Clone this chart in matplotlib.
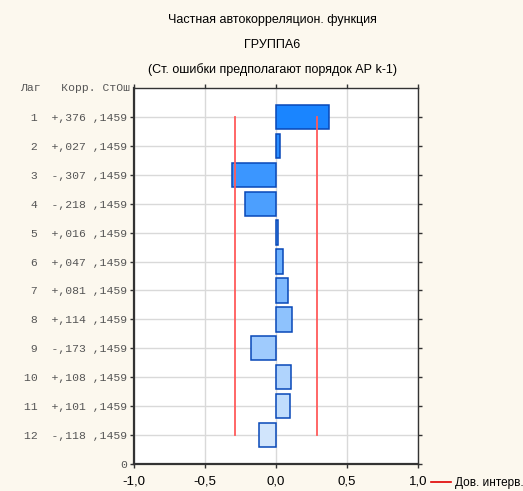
import numpy as np
import matplotlib
matplotlib.use("Agg")
import matplotlib.pyplot as plt
from matplotlib.lines import Line2D

lags = [1, 2, 3, 4, 5, 6, 7, 8, 9, 10, 11, 12]
corr = [0.376, 0.027, -0.307, -0.218, 0.016, 0.047, 0.081, 0.114, -0.173, 0.108, 0.101, -0.118]
corr_txt = ["+,376", "+,027", "-,307", "-,218", "+,016", "+,047", "+,081", "+,114",
            "-,173", "+,108", "+,101", "-,118"]
se = [0.1459] * 12
se_txt = [",1459"] * 12
xticks = [-1.0, -0.5, 0.0, 0.5, 1.0]
xtick_labels = ["-1,0", "-0,5", "0,0", "0,5", "1,0"]

bg = "#fcf8ee"
sans = ["Liberation Sans", "DejaVu Sans"]
mono = ["Liberation Mono", "DejaVu Sans Mono"]

fig = plt.figure(figsize=(5.23, 4.91), dpi=100, facecolor=bg)
ax = fig.add_axes([134/523, 1 - 464/491, (418-134)/523, (464-88)/491])
ax.set_facecolor("white")

n = len(lags)
ypos = [n + 1 - k for k in lags]

# colour gradient from dark to light blue
c0 = np.array([0.10, 0.52, 1.00])
c1 = np.array([0.82, 0.90, 0.99])
colors = [tuple(c0 + (c1 - c0) * i / (n - 1)) for i in range(n)]

ax.barh(ypos, corr, height=0.84, color=colors, edgecolor="#0848b8", linewidth=1.1, zorder=3)

# confidence limits
ci = [1.96 * s for s in se]
ax.plot(ci, ypos, color="#ff5a5a", lw=1.3, zorder=4)
ax.plot([-c for c in ci], ypos, color="#ff5a5a", lw=1.3, zorder=4)

ax.set_xlim(-1, 1)
ax.set_ylim(0, n + 1)
ax.set_xticks(xticks)
ax.set_xticklabels(xtick_labels, family=sans, fontsize=9.5)

yt = [0] + ypos
ylabels = ["0"] + [f"{k:>2}  {c} {s}" for k, c, s in zip(lags, corr_txt, se_txt)]
ax.set_yticks(yt)
ax.set_yticklabels(ylabels, family=mono, fontsize=8.2, color="#555555")

ax.grid(True, color="#d9d9d9", lw=1.0, zorder=0)
ax.set_axisbelow(True)
for sp in ax.spines.values():
    sp.set_color("#333333")
    sp.set_linewidth(1.0)
ax.spines["left"].set_linewidth(1.6)
ax.spines["bottom"].set_linewidth(1.6)
ax.tick_params(axis="both", length=3, width=1, color="#333333", pad=2,
               top=True, right=True)
ax.tick_params(axis="x", labelcolor="black", pad=5)

ax.text(-0.015, 1.0, "Лаг   Корр. СтОш", transform=ax.transAxes, ha="right", va="center",
        family=mono, fontsize=8.2, color="#555555")

fig.text(272/523, 1 - 20/491, "Частная автокорреляцион. функция", ha="center", va="center",
         family=sans, fontsize=9)
fig.text(272/523, 1 - 45/491, "ГРУППА6", ha="center", va="center", family=sans, fontsize=9)
fig.text(272/523, 1 - 70/491, "(Ст. ошибки предполагают порядок АР k-1)", ha="center",
         va="center", family=sans, fontsize=9)

fig.add_artist(Line2D([431/523, 451/523], [1 - 482/491, 1 - 482/491], color="#e00000", lw=1.2))
fig.text(455/523, 1 - 483/491, "Дов. интерв.", ha="left", va="center", family=sans, fontsize=8.5)

fig.savefig("out.png", dpi=100, facecolor=bg)
